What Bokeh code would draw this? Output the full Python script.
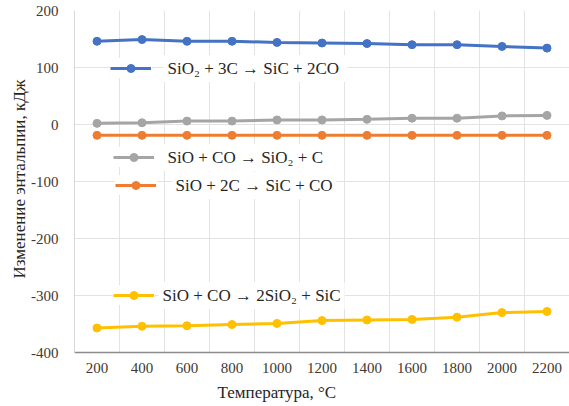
from bokeh.plotting import figure
from bokeh.models import Legend, LegendItem, Range1d, FixedTicker, Title, Label
from bokeh.embed import file_html
from bokeh.resources import INLINE

temps = [200, 400, 600, 800, 1000, 1200, 1400, 1600, 1800, 2000, 2200]
sio2_3c = [146, 149, 146, 146, 144, 143, 142, 140, 140, 137, 134]
sio_co = [2, 3, 6, 6, 8, 8, 9, 11, 11, 15, 16]
sio_2c = [-19, -19, -19, -19, -19, -19, -19, -19, -19, -19, -19]
sio_co_2 = [-357, -354, -353, -351, -349, -344, -343, -342, -338, -330, -328]

labels = ["SiO\u2082 + 3C  \u2192 SiC + 2CO",
          "SiO + CO \u2192 SiO\u2082 + C",
          "SiO + 2C \u2192 SiC + CO",
          "SiO + CO \u2192 2SiO\u2082 + SiC"]
colors = ["#4472C4", "#A5A5A5", "#ED7D31", "#FFC000"]
y_ticks = [-400, -300, -200, -100, 0, 100, 200]
y_tick_labels = ["-400", "-300", "-200", "-100", "0", "100", "200"]
grid_x = [300, 500, 700, 900, 1100, 1300, 1500, 1700, 1900, 2100]

FONT = "Liberation Serif"

p = figure(width=569, height=406, output_backend="svg", toolbar_location=None,
           x_range=Range1d(100, 2300), y_range=Range1d(-400, 200),
           min_border_left=74, min_border_right=0, min_border_top=10,
           min_border_bottom=20)
p.outline_line_color = None
p.background_fill_color = "white"

p.xaxis.ticker = FixedTicker(ticks=temps)
p.yaxis.ticker = FixedTicker(ticks=y_ticks)
p.yaxis.major_label_overrides = {t: s for t, s in zip(y_ticks, y_tick_labels)}
p.xgrid.ticker = FixedTicker(ticks=grid_x)
p.ygrid.ticker = FixedTicker(ticks=y_ticks)
p.xgrid.grid_line_color = "#E3E3E3"
p.ygrid.grid_line_color = "#E3E3E3"

for ax in (p.xaxis, p.yaxis):
    ax.major_tick_line_color = None
    ax.minor_tick_line_color = None
    ax.major_label_text_font = FONT
    ax.major_label_text_font_size = "15px"
    ax.major_label_text_color = "#403830"
p.yaxis.axis_line_color = "#D9D9D9"
p.xaxis.axis_line_color = "#8C8C8C"
p.xaxis.axis_line_width = 1.5
p.yaxis.major_label_standoff = 10
p.xaxis.major_label_standoff = 4

p.add_layout(Title(text="Изменение энтальпии, кДж", align="left", offset=74,
                   text_font=FONT, text_font_size="17px", text_font_style="normal",
                   text_color="#262626", standoff=0), "left")

p.add_layout(Title(text="Температура, °C", align="left", offset=143,
                   text_font=FONT, text_font_size="17px", text_font_style="normal",
                   text_color="#262626"), "below")

series = [sio2_3c, sio_co, sio_2c, sio_co_2]
# legend box positions (px from frame bottom-left), label text x, label centre y
legend_pos = [(36, 274), (39, 185), (41, 157), (39, 47)]
label_x = [89, 89, 97, 84]
label_y = [284, 195, 167, 57]
for vals, col, lab, pos, lx, ly in zip(series, colors, labels, legend_pos, label_x, label_y):
    ln = p.line(temps, vals, line_color=col, line_width=3)
    mk = p.scatter(temps, vals, size=8, fill_color=col, line_color=col)
    leg = Legend(items=[LegendItem(label=" ", renderers=[ln, mk])], location=pos,
                 label_text_font_size="4px", border_line_alpha=0,
                 background_fill_alpha=1, padding=0, margin=0, glyph_width=41,
                 glyph_height=20, label_standoff=0, label_height=20, label_width=1)
    p.add_layout(leg)
    p.add_layout(Label(x=lx, y=ly, x_units="screen", y_units="screen", text=lab,
                       text_font=FONT, text_font_size="17px", text_color="#262626",
                       text_baseline="middle", background_fill_color="white",
                       padding=4))

open("out.html", "w").write(file_html(p, INLINE))
